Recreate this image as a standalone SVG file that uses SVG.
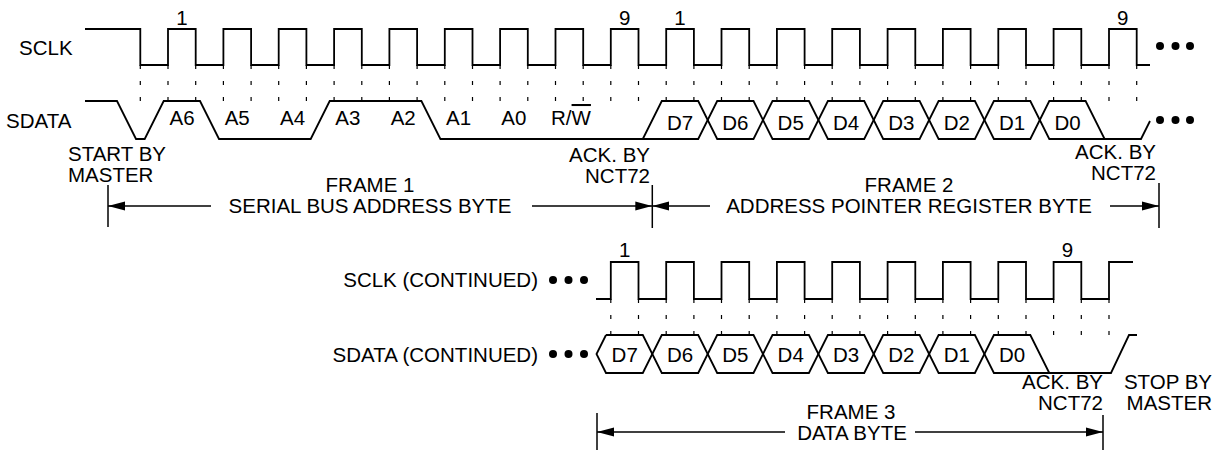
<svg xmlns="http://www.w3.org/2000/svg" width="1220" height="451" viewBox="0 0 1220 451">
<style>
  text { font-family: "Liberation Sans", Arial, Helvetica, sans-serif; font-size: 20.5px; fill: #000; }
  .c { text-anchor: middle; }
  .e { text-anchor: end; }
  .sig { fill: none; stroke: #000; stroke-width: 1.8; stroke-linejoin: miter; }
  .tick { stroke: #000; stroke-width: 1.2; stroke-dasharray: 4 12; }
  .bnd { stroke: #000; stroke-width: 1.5; }
  .arr { stroke: #000; stroke-width: 1.3; fill: none; marker-end: url(#ah); }
  .dot { fill: #000; }
</style>
<defs>
  <marker id="ah" markerUnits="userSpaceOnUse" markerWidth="17" markerHeight="10" refX="17" refY="5" orient="auto">
    <path d="M0,0.5 L17,5 L0,9.5 z" fill="#000"/>
  </marker>
</defs>
<rect width="1220" height="451" fill="#fff"/>

<g id="top-signals">
  <text x="19" y="55">SCLK</text>
  <text x="6" y="128">SDATA</text>
  <path class="sig" d="M85,29 H140.3 V65 H168 V29 H195.7 V65 H223.4 V29 H251.1 V65 H278.7 V29 H306.4 V65 H334.1 V29 H361.8 V65 H389.4 V29 H417.1 V65 H444.8 V29 H472.5 V65 H500.1 V29 H527.8 V65 H555.5 V29 H583.2 V65 H610.8 V29 H638.5 V65 H666.2 V29 H693.9 V65 H721.5 V29 H749.2 V65 H776.9 V29 H804.6 V65 H832.2 V29 H859.9 V65 H887.6 V29 H915.3 V65 H942.9 V29 H970.6 V65 H998.3 V29 H1026 V65 H1053.6 V29 H1081.3 V65 H1109 V29 H1136.7 V65 H1150"/>
  <path class="sig" d="M85,101 H117 L136,139 H144.7 L163.7,101 H200 L219,139 H310.7 L329.7,101 H421.4 L440.4,139 H698.2 L717.2,101 H753.5 L772.5,139 H808.9 L827.9,101 H864.2 L883.2,139 H919.6 L938.6,101 H974.9 L993.9,139 H1030.3 L1049.3,101 H1085.6 L1104.6,139 H1141 L1150,121"/>
  <path class="sig" d="M642.8,139 L661.8,101 H698.2 L717.2,139 H753.5 L772.5,101 H808.9 L827.9,139 H864.2 L883.2,101 H919.6 L938.6,139 H974.9 L993.9,101 H1030.3 L1049.3,139 H1104.6"/>
  <g id="top-ticks">
    <line class="tick" x1="140.3" y1="65" x2="140.3" y2="101"/>
    <line class="tick" x1="168" y1="65" x2="168" y2="101"/>
    <line class="tick" x1="195.7" y1="65" x2="195.7" y2="101"/>
    <line class="tick" x1="223.4" y1="65" x2="223.4" y2="101"/>
    <line class="tick" x1="251.1" y1="65" x2="251.1" y2="101"/>
    <line class="tick" x1="278.7" y1="65" x2="278.7" y2="101"/>
    <line class="tick" x1="306.4" y1="65" x2="306.4" y2="101"/>
    <line class="tick" x1="334.1" y1="65" x2="334.1" y2="101"/>
    <line class="tick" x1="361.8" y1="65" x2="361.8" y2="101"/>
    <line class="tick" x1="389.4" y1="65" x2="389.4" y2="101"/>
    <line class="tick" x1="417.1" y1="65" x2="417.1" y2="101"/>
    <line class="tick" x1="444.8" y1="65" x2="444.8" y2="101"/>
    <line class="tick" x1="472.5" y1="65" x2="472.5" y2="101"/>
    <line class="tick" x1="500.1" y1="65" x2="500.1" y2="101"/>
    <line class="tick" x1="527.8" y1="65" x2="527.8" y2="101"/>
    <line class="tick" x1="555.5" y1="65" x2="555.5" y2="101"/>
    <line class="tick" x1="583.2" y1="65" x2="583.2" y2="101"/>
    <line class="tick" x1="610.8" y1="65" x2="610.8" y2="101"/>
    <line class="tick" x1="638.5" y1="65" x2="638.5" y2="101"/>
    <line class="tick" x1="666.2" y1="65" x2="666.2" y2="101"/>
    <line class="tick" x1="693.9" y1="65" x2="693.9" y2="101"/>
    <line class="tick" x1="721.5" y1="65" x2="721.5" y2="101"/>
    <line class="tick" x1="749.2" y1="65" x2="749.2" y2="101"/>
    <line class="tick" x1="776.9" y1="65" x2="776.9" y2="101"/>
    <line class="tick" x1="804.6" y1="65" x2="804.6" y2="101"/>
    <line class="tick" x1="832.2" y1="65" x2="832.2" y2="101"/>
    <line class="tick" x1="859.9" y1="65" x2="859.9" y2="101"/>
    <line class="tick" x1="887.6" y1="65" x2="887.6" y2="101"/>
    <line class="tick" x1="915.3" y1="65" x2="915.3" y2="101"/>
    <line class="tick" x1="942.9" y1="65" x2="942.9" y2="101"/>
    <line class="tick" x1="970.6" y1="65" x2="970.6" y2="101"/>
    <line class="tick" x1="998.3" y1="65" x2="998.3" y2="101"/>
    <line class="tick" x1="1026" y1="65" x2="1026" y2="101"/>
    <line class="tick" x1="1053.6" y1="65" x2="1053.6" y2="101"/>
    <line class="tick" x1="1081.3" y1="65" x2="1081.3" y2="101"/>
    <line class="tick" x1="1109" y1="65" x2="1109" y2="101"/>
    <line class="tick" x1="1136.7" y1="65" x2="1136.7" y2="101"/>
  </g>
  <circle class="dot" cx="1160" cy="46" r="4"/>
  <circle class="dot" cx="1175.5" cy="46" r="4"/>
  <circle class="dot" cx="1190" cy="46" r="4"/>
  <circle class="dot" cx="1160" cy="120" r="4"/>
  <circle class="dot" cx="1175.5" cy="120" r="4"/>
  <circle class="dot" cx="1190" cy="120" r="4"/>
  <text class="c" x="182" y="25">1</text>
  <text class="c" x="624.7" y="25">9</text>
  <text class="c" x="680" y="25">1</text>
  <text class="c" x="1122.8" y="25">9</text>
  <text class="c" x="182" y="125">A6</text>
  <text class="c" x="237.2" y="125">A5</text>
  <text class="c" x="292.5" y="125">A4</text>
  <text class="c" x="347.9" y="125">A3</text>
  <text class="c" x="403.2" y="125">A2</text>
  <text class="c" x="458.6" y="125">A1</text>
  <text class="c" x="513.9" y="125">A0</text>
  <text class="c" x="571" y="125">R/<tspan text-decoration="overline">W</tspan></text>
  <text class="c" x="680" y="130">D7</text>
  <text class="c" x="735.4" y="130">D6</text>
  <text class="c" x="790.7" y="130">D5</text>
  <text class="c" x="846.1" y="130">D4</text>
  <text class="c" x="901.4" y="130">D3</text>
  <text class="c" x="956.8" y="130">D2</text>
  <text class="c" x="1012.1" y="130">D1</text>
  <text class="c" x="1067.5" y="130">D0</text>
  <text x="68" y="161">START BY</text>
  <text x="68" y="182">MASTER</text>
  <text class="e" x="650" y="162">ACK. BY</text>
  <text class="e" x="650" y="183">NCT72</text>
  <text class="e" x="1156" y="159">ACK. BY</text>
  <text class="e" x="1156" y="180">NCT72</text>
</g>

<g id="bottom-signals">
  <text class="e" x="538" y="287">SCLK (CONTINUED)</text>
  <text class="e" x="538" y="362">SDATA (CONTINUED)</text>
  <circle class="dot" cx="553" cy="280" r="4"/>
  <circle class="dot" cx="568.5" cy="280" r="4"/>
  <circle class="dot" cx="584" cy="280" r="4"/>
  <circle class="dot" cx="553" cy="354" r="4"/>
  <circle class="dot" cx="568.5" cy="354" r="4"/>
  <circle class="dot" cx="584" cy="354" r="4"/>
  <path class="sig" d="M596,299 H610.8 V262 H638.5 V299 H666.2 V262 H693.9 V299 H721.5 V262 H749.2 V299 H776.9 V262 H804.6 V299 H832.2 V262 H859.9 V299 H887.6 V262 H915.3 V299 H942.9 V262 H970.6 V299 H998.3 V262 H1026 V299 H1053.6 V262 H1081.3 V299 H1109 V262 H1133"/>
  <path class="sig" d="M606,335 H642.8 L661.8,373 H698.2 L717.2,335 H753.5 L772.5,373 H808.9 L827.9,335 H864.2 L883.2,373 H919.6 L938.6,335 H974.9 L993.9,373 H1111 L1129,335 H1137"/>
  <path class="sig" d="M606,335 L596.5,354 L606,373 H642.8 L661.8,335 H698.2 L717.2,373 H753.5 L772.5,335 H808.9 L827.9,373 H864.2 L883.2,335 H919.6 L938.6,373 H974.9 L993.9,335 H1030.3 L1049.3,373"/>
  <g id="bottom-ticks">
    <line class="tick" x1="610.8" y1="299" x2="610.8" y2="335"/>
    <line class="tick" x1="638.5" y1="299" x2="638.5" y2="335"/>
    <line class="tick" x1="666.2" y1="299" x2="666.2" y2="335"/>
    <line class="tick" x1="693.9" y1="299" x2="693.9" y2="335"/>
    <line class="tick" x1="721.5" y1="299" x2="721.5" y2="335"/>
    <line class="tick" x1="749.2" y1="299" x2="749.2" y2="335"/>
    <line class="tick" x1="776.9" y1="299" x2="776.9" y2="335"/>
    <line class="tick" x1="804.6" y1="299" x2="804.6" y2="335"/>
    <line class="tick" x1="832.2" y1="299" x2="832.2" y2="335"/>
    <line class="tick" x1="859.9" y1="299" x2="859.9" y2="335"/>
    <line class="tick" x1="887.6" y1="299" x2="887.6" y2="335"/>
    <line class="tick" x1="915.3" y1="299" x2="915.3" y2="335"/>
    <line class="tick" x1="942.9" y1="299" x2="942.9" y2="335"/>
    <line class="tick" x1="970.6" y1="299" x2="970.6" y2="335"/>
    <line class="tick" x1="998.3" y1="299" x2="998.3" y2="335"/>
    <line class="tick" x1="1026" y1="299" x2="1026" y2="335"/>
    <line class="tick" x1="1053.6" y1="299" x2="1053.6" y2="335"/>
    <line class="tick" x1="1081.3" y1="299" x2="1081.3" y2="335"/>
    <line class="tick" x1="1109" y1="299" x2="1109" y2="335"/>
  </g>
  <text class="c" x="624.7" y="257">1</text>
  <text class="c" x="1067.5" y="257">9</text>
  <text class="c" x="624.7" y="362">D7</text>
  <text class="c" x="680" y="362">D6</text>
  <text class="c" x="735.4" y="362">D5</text>
  <text class="c" x="790.7" y="362">D4</text>
  <text class="c" x="846.1" y="362">D3</text>
  <text class="c" x="901.4" y="362">D2</text>
  <text class="c" x="956.8" y="362">D1</text>
  <text class="c" x="1012.1" y="362">D0</text>
  <text class="e" x="1103" y="389">ACK. BY</text>
  <text class="e" x="1103" y="410">NCT72</text>
  <text class="e" x="1212" y="389">STOP BY</text>
  <text class="e" x="1212" y="410">MASTER</text>
</g>

<g id="frame1">
  <text class="c" x="370" y="192">FRAME 1</text>
  <text class="c" x="370" y="213">SERIAL BUS ADDRESS BYTE</text>
</g>
<g id="frame2">
  <text class="c" x="909" y="192">FRAME 2</text>
  <text class="c" x="909" y="213">ADDRESS POINTER REGISTER BYTE</text>
</g>
<g id="frame3">
  <text class="c" x="851" y="419">FRAME 3</text>
  <text class="c" x="852" y="440">DATA BYTE</text>
</g>

<g id="connectors">
  <line class="bnd" x1="108" y1="185" x2="108" y2="227"/>
  <line class="bnd" x1="652.3" y1="185" x2="652.3" y2="228"/>
  <line class="bnd" x1="1159" y1="183" x2="1159" y2="228"/>
  <line class="bnd" x1="597" y1="413" x2="597" y2="450"/>
  <line class="bnd" x1="1103" y1="415" x2="1103" y2="450"/>
  <line class="arr" x1="211" y1="206" x2="108" y2="206"/>
  <line class="arr" x1="532" y1="206" x2="652.3" y2="206"/>
  <line class="arr" x1="710" y1="206" x2="652.3" y2="206"/>
  <line class="arr" x1="1110" y1="206" x2="1159" y2="206"/>
  <line class="arr" x1="785" y1="432" x2="597" y2="432"/>
  <line class="arr" x1="915" y1="432" x2="1103" y2="432"/>
</g>
</svg>
